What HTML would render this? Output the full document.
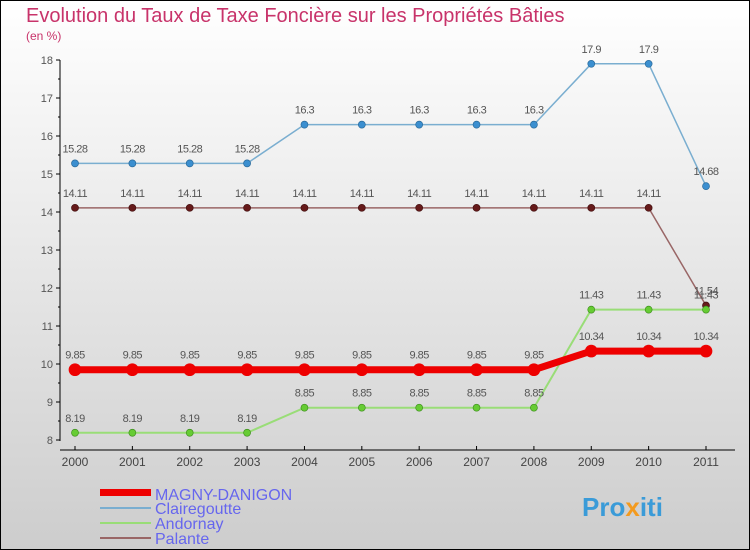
<!DOCTYPE html>
<html><head><meta charset="utf-8"><style>
body{margin:0}
svg{display:block;font-family:"Liberation Sans",sans-serif}
</style></head><body>
<svg width="750" height="550" viewBox="0 0 750 550" id="c">
<defs><linearGradient id="bg" x1="0" y1="0" x2="0" y2="1"><stop offset="0" stop-color="#ffffff"/><stop offset="1" stop-color="#cdcdcd"/></linearGradient></defs>
<rect x="0.5" y="0.5" width="749" height="549" fill="url(#bg)" stroke="#000"/>
<text x="26" y="22" font-size="20" fill="#c8336a">Evolution du Taux de Taxe Foncière sur les Propriétés Bâties</text>
<text x="26" y="40" font-size="12" fill="#c8336a">(en %)</text>
<g id="axes"></g><g id="series"></g>
<g>
<rect x="100" y="489" width="51" height="7" fill="#e00"/>
<text x="155" y="500" font-size="16" fill="#6666ee">MAGNY-DANIGON</text>
<rect x="100" y="507" width="51" height="2" fill="#7aaed0"/>
<text x="155" y="514" font-size="16" fill="#6666ee">Clairegoutte</text>
<rect x="100" y="522" width="51" height="2" fill="#99dd77"/>
<text x="155" y="529" font-size="16" fill="#6666ee">Andornay</text>
<rect x="100" y="537" width="51" height="2" fill="#996666"/>
<text x="155" y="544" font-size="16" fill="#6666ee">Palante</text>
</g>
<text x="582" y="516" font-size="26" font-weight="bold" fill="#3a9bd8">Pro<tspan fill="#f39a1e">x</tspan>iti</text>
</svg>
<script>
const years=[2000,2001,2002,2003,2004,2005,2006,2007,2008,2009,2010,2011];
const yTicks=[8,9,10,11,12,13,14,15,16,17,18];
const magny=[9.85,9.85,9.85,9.85,9.85,9.85,9.85,9.85,9.85,10.34,10.34,10.34];
const clairegoutte=[15.28,15.28,15.28,15.28,16.3,16.3,16.3,16.3,16.3,17.9,17.9,14.68];
const andornay=[8.19,8.19,8.19,8.19,8.85,8.85,8.85,8.85,8.85,11.43,11.43,11.43];
const palante=[14.11,14.11,14.11,14.11,14.11,14.11,14.11,14.11,14.11,14.11,14.11,11.54];
const NS="http://www.w3.org/2000/svg";
const xs=i=>75+i*(706-75)/11;
const ys=v=>440-(v-8)*38;
function mk(t,a,p){const e=document.createElementNS(NS,t);for(const k in a)e.setAttribute(k,a[k]);p.appendChild(e);return e;}
const ax=document.getElementById('axes');
let e=mk('line',{x1:60,y1:60,x2:60,y2:441,stroke:'#000'},ax);


e=mk('line',{x1:60,y1:450,x2:735,y2:450,stroke:'#000'},ax);


yTicks.forEach(v=>{mk('line',{x1:56,y1:ys(v),x2:60,y2:ys(v),stroke:'#000'},ax);
const t=mk('text',{x:53,y:ys(v)+4,'font-size':11,fill:'#555','text-anchor':'end'},ax);t.textContent=v;


if(v<18){mk('line',{x1:58,y1:ys(v+0.5),x2:60,y2:ys(v+0.5),stroke:'#000'},ax);}});
years.forEach((y,i)=>{mk('line',{x1:xs(i),y1:446,x2:xs(i),y2:450,stroke:'#000'},ax);
const t=mk('text',{x:xs(i),y:466,'font-size':12,fill:'#444','text-anchor':'middle'},ax);t.textContent=y;

});
const sg=document.getElementById('series');
function series(name,data,color,dot,w,r,lc){
 const g=mk('g',{},sg);
 
 
 const l=mk('polyline',{points:data.map((v,i)=>xs(i)+','+ys(v)).join(' '),fill:'none',stroke:color,'stroke-width':w},g);
 
 
 data.forEach((v,i)=>{const c=mk('circle',{cx:xs(i),cy:ys(v),r:r,fill:dot,stroke:lc,'stroke-width':0.7},g);
 
 
 const t=mk('text',{x:xs(i),y:ys(v)-11,'font-size':11,fill:'#555','text-anchor':'middle','letter-spacing':'-0.5'},g);t.textContent=v;
 
 });
}
series('clairegoutte',clairegoutte,'#7aaed0','#3b8fd0',1.5,3.5,'#2a6a9a');
series('palante',palante,'#996666','#661a1a',1.5,3.5,'#441111');
series('andornay',andornay,'#99dd77','#66cc33',2,3.5,'#3f8f1f');
series('magny',magny,'#ee0000','#ee0000',7,6,'#ee0000');
</script>
</body></html>
